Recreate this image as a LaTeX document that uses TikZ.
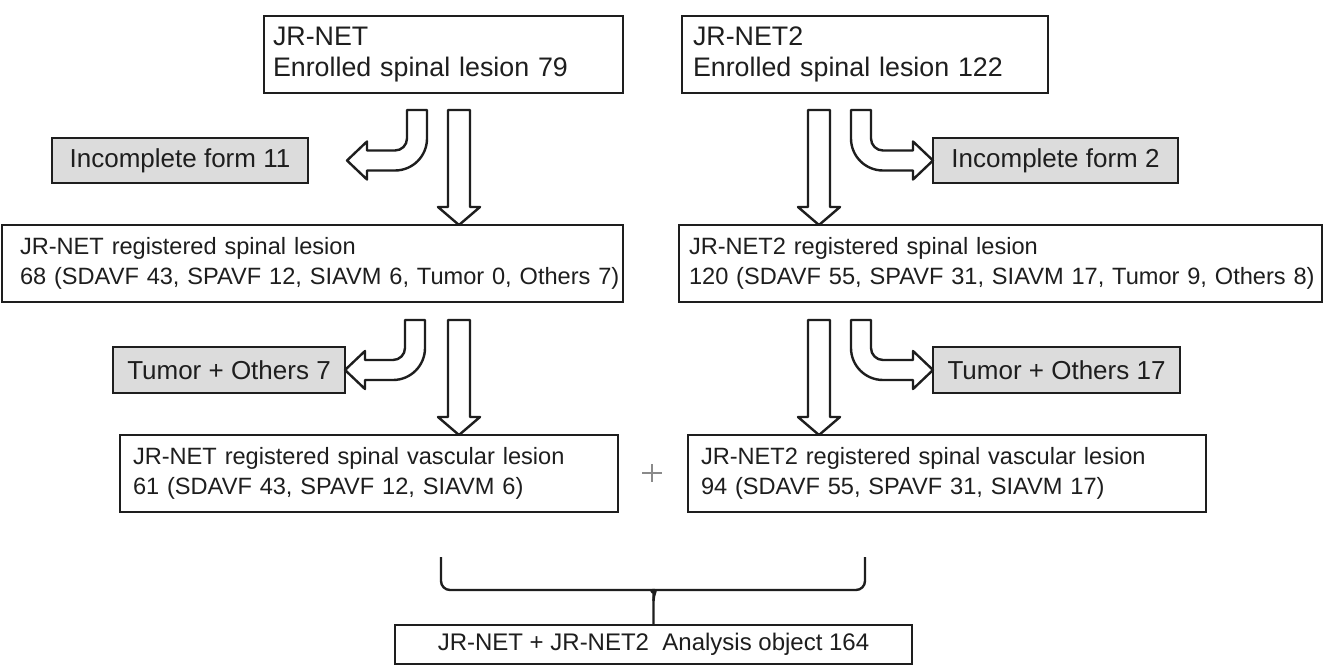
\documentclass[tikz,border=0pt]{standalone}
\usepackage{fontspec}
\setmainfont{Liberation Sans}
\usetikzlibrary{calc}

\definecolor{ink}{HTML}{1E1E1E}
\definecolor{shade}{HTML}{DCDCDC}
\definecolor{plusgray}{HTML}{8A8A8A}

\tikzset{
  frame/.style={draw=ink, line width=2.6pt, anchor=north west, outer sep=0pt,
                inner ysep=0pt, align=left, text=ink},
  topbox/.style={frame, font=\fontsize{26.8}{31}\selectfont},
  midbox/.style={frame, font=\fontsize{23.6}{30}\selectfont},
  greybox/.style={draw=ink, line width=2.6pt, fill=shade, anchor=north west,
                  outer sep=0pt, inner sep=0pt, text=ink,
                  font=\fontsize{26}{30}\selectfont},
  hollow/.style={draw=ink, fill=white, line width=2.4pt, line join=round},
  bracket/.style={draw=ink, line width=2.4pt, rounded corners=9pt},
}

% straight hollow arrow: top of shaft, tip
\newcommand\hollowdown[2]{%
  \draw[hollow] let \p1=(#1), \p2=(#2) in
    (\x1-11pt,\y1) -- (\x1+11pt,\y1) -- (\x1+11pt,\y2+18pt) -- (\x1+21pt,\y2+18pt)
    -- (\x1,\y2) -- (\x1-21pt,\y2+18pt) -- (\x1-11pt,\y2+18pt) -- cycle;}

% hollow arrow bending down then to the left: top of shaft, tip
\newcommand\hollowleft[2]{%
  \draw[hollow] let \p1=(#1), \p2=(#2) in
    (\x1-10pt,\y1) -- (\x1+10pt,\y1) -- (\x1+10pt,\y2+22pt)
    arc[start angle=0,end angle=-90,radius=32pt]
    -- (\x2+20pt,\y2-10pt) -- (\x2+20pt,\y2-19pt) -- (\x2,\y2)
    -- (\x2+20pt,\y2+19pt) -- (\x2+20pt,\y2+10pt) -- (\x1-22pt,\y2+10pt)
    arc[start angle=-90,end angle=0,radius=12pt] -- cycle;}

% hollow arrow bending down then to the right: top of shaft, tip
\newcommand\hollowright[2]{%
  \draw[hollow] let \p1=(#1), \p2=(#2) in
    (\x1+10pt,\y1) -- (\x1-10pt,\y1) -- (\x1-10pt,\y2+22pt)
    arc[start angle=180,end angle=270,radius=32pt]
    -- (\x2-20pt,\y2-10pt) -- (\x2-20pt,\y2-19pt) -- (\x2,\y2)
    -- (\x2-20pt,\y2+19pt) -- (\x2-20pt,\y2+10pt) -- (\x1+22pt,\y2+10pt)
    arc[start angle=270,end angle=180,radius=12pt] -- cycle;}

\begin{document}
\begin{tikzpicture}[x=1pt, y=-1pt]
\useasboundingbox[fill=white] (0,0) rectangle (1323,666);

% enrolled lesions
\node[topbox, minimum width=359pt, minimum height=77pt, inner xsep=9pt, text width=341pt]
  (a1) at (264,16) {JR-NET\\Enrolled spinal lesion 79};
\node[topbox, minimum width=366pt, minimum height=77pt, inner xsep=11pt, text width=344pt]
  (b1) at (682,16) {JR-NET2\\Enrolled spinal lesion 122};

% excluded: incomplete forms
\node[greybox, minimum width=256pt, minimum height=45pt] (inc1) at (52,138) {Incomplete form 11};
\node[greybox, minimum width=245pt, minimum height=45pt] (inc2) at (933,138) {Incomplete form 2};

% registered lesions
\node[midbox, minimum width=621pt, minimum height=77pt, inner xsep=18pt, text width=585pt]
  (a2) at (2,225) {\mbox{JR-NET registered spinal lesion}\\
  \mbox{68 (SDAVF 43, SPAVF 12, SIAVM 6, Tumor 0, Others 7)}};
\node[midbox, minimum width=643pt, minimum height=77pt, inner xsep=10pt, text width=623pt]
  (b2) at (679,225) {\mbox{JR-NET2 registered spinal lesion}\\
  \mbox{120 (SDAVF 55, SPAVF 31, SIAVM 17, Tumor 9, Others 8)}};

% excluded: tumours and others
\node[greybox, minimum width=232pt, minimum height=46pt] (tum1) at (113,347) {Tumor + Others 7};
\node[greybox, minimum width=247pt, minimum height=46pt] (tum2) at (933,347) {Tumor + Others 17};

% vascular lesions
\node[midbox, minimum width=498pt, minimum height=77pt, inner xsep=13pt, text width=472pt]
  (a3) at (120,435) {JR-NET registered spinal vascular lesion\\61 (SDAVF 43, SPAVF 12, SIAVM 6)};
\node[midbox, minimum width=518pt, minimum height=77pt, inner xsep=13pt, text width=492pt]
  (b3) at (688,435) {JR-NET2 registered spinal vascular lesion\\94 (SDAVF 55, SPAVF 31, SIAVM 17)};

% analysis object
\node[frame, align=center, minimum width=517pt, minimum height=39pt, inner xsep=0pt,
      font=\fontsize{24}{28}\selectfont]
  (fin) at (395,625) {JR-NET + JR-NET2\ \ Analysis object 164};

% arrow start points
\coordinate (sa1) at (459,110);
\coordinate (ba1) at (417,110);
\coordinate (sb1) at (819,110);
\coordinate (bb1) at (861,110);
\coordinate (sa2) at (459,320);
\coordinate (ba2) at (415,320);
\coordinate (sb2) at (819,320);
\coordinate (bb2) at (861,320);

\hollowleft{ba1}{$(inc1.east)+(39,0)$}
\hollowdown{sa1}{sa1 |- a2.north}
\hollowdown{sb1}{sb1 |- b2.north}
\hollowright{bb1}{inc2.west}

\hollowleft{ba2}{tum1.east}
\hollowdown{sa2}{sa2 |- a3.north}
\hollowdown{sb2}{sb2 |- b3.north}
\hollowright{bb2}{tum2.west}

% plus sign between the vascular lesion boxes
\coordinate (plus) at (652,473);
\draw[plusgray, line width=2pt] ($(plus)+(-10,0)$) -- ($(plus)+(10,0)$)
  ($(plus)+(0,-9)$) -- ($(plus)+(0,9)$);

% brace joining both registries
\coordinate (bl) at (441,557);
\coordinate (br) at (865,557);
\draw[bracket] (bl) -- (bl |- 0,590) -- (643,590)
  .. controls (650,590) and (653.5,594) .. (653.5,601) -- (fin.north);
\draw[bracket] (br) -- (br |- 0,590) -- (664,590)
  .. controls (657,590) and (653.5,594) .. (653.5,601);
\end{tikzpicture}
\end{document}
